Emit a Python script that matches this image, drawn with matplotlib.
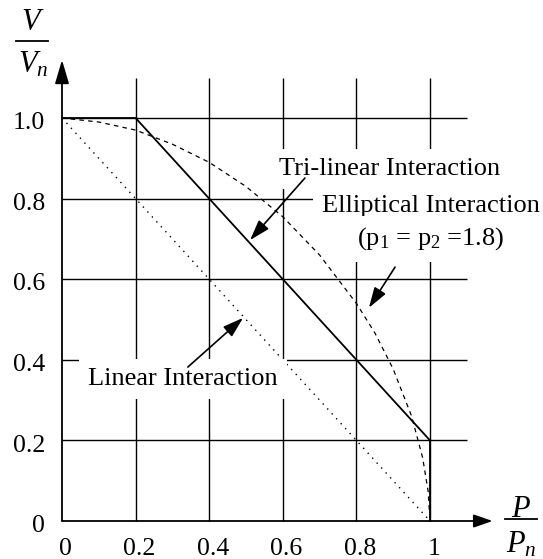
import matplotlib
matplotlib.use('Agg')
import matplotlib.pyplot as plt

plt.rcParams['font.family'] = ['Liberation Serif', 'DejaVu Serif']
plt.rcParams['mathtext.fontset'] = 'custom'
plt.rcParams['mathtext.rm'] = 'Liberation Serif'
plt.rcParams['mathtext.it'] = 'Liberation Serif:italic'

# grid / tick values
tick_vals = [0, 0.2, 0.4, 0.6, 0.8, 1.0]
x_tick_labels = ['0', '0.2', '0.4', '0.6', '0.8', '1']
y_tick_labels = ['0', '0.2', '0.4', '0.6', '0.8', '1.0']

# interaction curves (P/Pn, V/Vn)
linear_p = [0, 1.0]
linear_v = [1.0, 0]
trilinear_p = [0, 0.2, 1.0, 1.0]
trilinear_v = [1.0, 1.0, 0.2, 0]
ellip_p = [0, 0.1, 0.2, 0.3, 0.4, 0.5, 0.6, 0.7, 0.8, 0.85, 0.9, 0.95, 0.98, 0.995, 1.0]
ellip_v = [1.0, 0.99, 0.97, 0.935, 0.89, 0.83, 0.755, 0.66, 0.54, 0.467, 0.377, 0.26, 0.157, 0.073, 0]

fig = plt.figure(figsize=(5.43, 5.59), dpi=100)
ax = fig.add_axes([0, 0, 1, 1])
ax.set_xlim(-62 / 368, 481 / 368)
ax.set_ylim(-38 / 403, 521 / 403)
ax.axis('off')

# grid
ax.vlines(tick_vals[1:], 0, 1.1, colors='k', lw=1.0, zorder=1)
ax.hlines(tick_vals[1:], 0, 1.1, colors='k', lw=1.0, zorder=1)

# axes with arrows
ax.annotate('', xy=(0, 1.144), xytext=(0, 0),
            arrowprops=dict(arrowstyle='-|>,head_length=1.45,head_width=0.43',
                            mutation_scale=10, lw=1.3, color='k',
                            shrinkA=0, shrinkB=0), zorder=2)
ax.annotate('', xy=(1.17, 0), xytext=(0, 0),
            arrowprops=dict(arrowstyle='-|>,head_length=1.15,head_width=0.4',
                            mutation_scale=10, lw=1.3, color='k',
                            shrinkA=0, shrinkB=0), zorder=2)

# curves
ax.plot(linear_p, linear_v, color='k', lw=1.0, ls=(0, (1, 3.8)), zorder=2)
ax.plot(trilinear_p, trilinear_v, color='k', lw=1.3, zorder=2)
ax.plot(ellip_p, ellip_v, color='k', lw=0.9, ls=(0, (3.6, 3.4)), zorder=2)

# tick labels
for v, lab in zip(tick_vals, x_tick_labels):
    ax.text(v + 0.01, -0.084, lab, fontsize=18.5, ha='center', va='baseline')
for v, lab in zip(tick_vals, y_tick_labels):
    ax.text(-0.046, v - 0.028, lab, fontsize=18.5, ha='right', va='baseline')

# axis titles as fractions
ax.text(-0.08, 1.218, r'$V$', fontsize=22, ha='center', va='baseline')
ax.plot([-0.125, -0.038], [1.191, 1.191], color='k', lw=1.3, clip_on=False)
ax.text(-0.078, 1.114, r'$V_n$', fontsize=22, ha='center', va='baseline')
ax.text(1.247, 0.010, r'$P$', fontsize=22, ha='center', va='baseline')
ax.plot([1.204, 1.291], [0.005, 0.005], color='k', lw=1.3, clip_on=False)
ax.text(1.249, -0.077, r'$P_n$', fontsize=22, ha='center', va='baseline')

# labels with white boxes
box = dict(boxstyle='square,pad=0.35', fc='white', ec='none')
ax.text(0.889, 0.859, 'Tri-linear Interaction', fontsize=19, ha='center',
        va='baseline', bbox=box, zorder=3)
ax.text(1.003, 0.767, 'Elliptical Interaction', fontsize=19, ha='center',
        va='baseline', bbox=box, zorder=3)
ax.text(1.003, 0.685, r'(p$_1$ = p$_2$ =1.8)', fontsize=19, ha='center',
        va='baseline', bbox=box, zorder=3)
ax.text(0.329, 0.3375, 'Linear Interaction', fontsize=19, ha='center',
        va='baseline', bbox=box, zorder=3)

# pointer arrows
arrow = dict(arrowstyle='-|>,head_length=1.25,head_width=0.4', mutation_scale=10,
             lw=1.2, color='k', shrinkA=0, shrinkB=0)
ax.annotate('', xy=(0.511, 0.697), xytext=(0.660, 0.851), arrowprops=arrow, zorder=4)
ax.annotate('', xy=(0.834, 0.529), xytext=(0.905, 0.630), arrowprops=arrow, zorder=4)
ax.annotate('', xy=(0.492, 0.504), xytext=(0.342, 0.382), arrowprops=arrow, zorder=4)

fig.savefig('out.png', dpi=100)
